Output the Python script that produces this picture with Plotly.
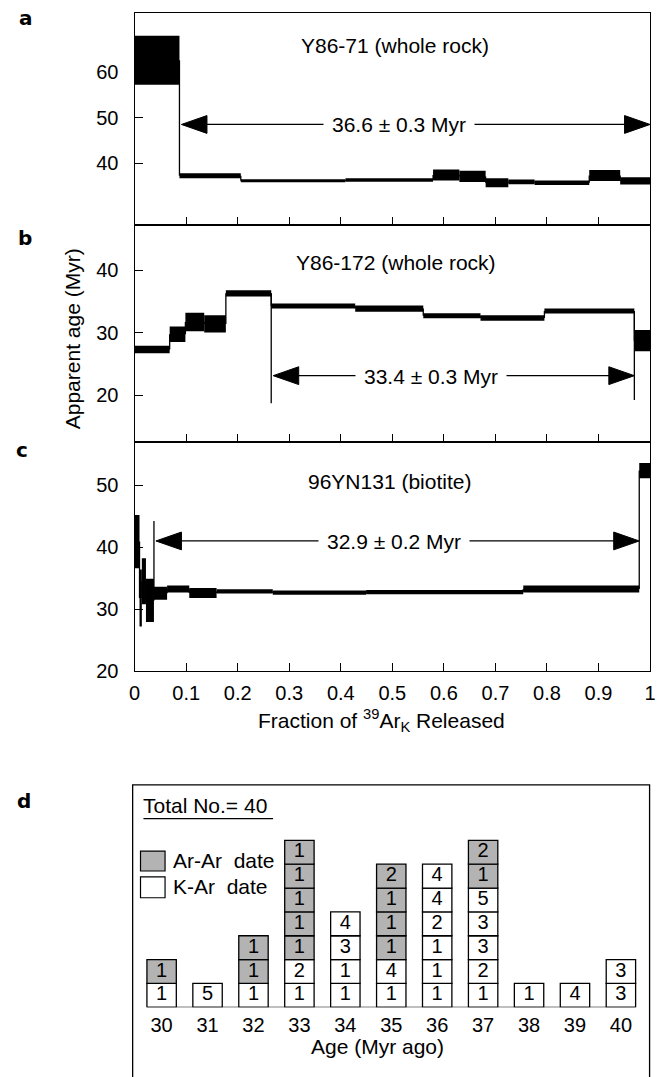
import plotly.graph_objects as go

W, H = 660, 1077
FONT = "Liberation Sans, Arial, Helvetica, sans-serif"

# ---------------- data ----------------
# panel a: Y86-71 (whole rock)
a_start = [0.0, 0.087, 0.206, 0.409, 0.579, 0.630, 0.681, 0.725, 0.776, 0.882, 0.942]
a_end = [0.087, 0.206, 0.409, 0.579, 0.630, 0.681, 0.725, 0.776, 0.882, 0.942, 1.0]
a_age = [62.6, 37.25, 36.15, 36.3, 37.4, 37.1, 35.7, 35.9, 35.7, 37.3, 36.1]
a_err = [5.4, 0.55, 0.35, 0.4, 1.2, 1.25, 1.0, 0.5, 0.5, 1.2, 0.8]
a_plateau = [0.087, 1.0]
a_arrow_age = 48.5
a_label = "36.6 ± 0.3 Myr"
a_title = "Y86-71 (whole rock)"
a_yticks = [40, 50, 60]
a_marker_x, a_marker_top, a_marker_bot = [], [], []

# panel b: Y86-172 (whole rock)
b_start = [0.0, 0.068, 0.0985, 0.135, 0.177, 0.265, 0.428, 0.56, 0.671, 0.795, 0.9695]
b_end = [0.068, 0.0985, 0.135, 0.177, 0.265, 0.428, 0.56, 0.671, 0.795, 0.9695, 1.0]
b_age = [27.3, 29.75, 31.7, 31.4, 36.3, 34.25, 33.85, 32.7, 32.35, 33.46, 28.7]
b_err = [0.6, 1.25, 1.5, 1.4, 0.5, 0.4, 0.5, 0.4, 0.45, 0.4, 1.7]
b_plateau = [0.265, 0.9695]
b_arrow_age = 23.1
b_label = "33.4 ± 0.3 Myr"
b_title = "Y86-172 (whole rock)"
b_yticks = [20, 30, 40]
b_marker_x = [0.265, 0.9695]
b_marker_top = [36.3, 33.46]
b_marker_bot = [18.7, 19.2]

# panel c: 96YN131 (biotite)
c_start = [0.0, 0.0095, 0.014, 0.022, 0.0375, 0.063, 0.106, 0.159, 0.268, 0.449, 0.754, 0.979]
c_end = [0.0095, 0.014, 0.022, 0.0375, 0.063, 0.106, 0.159, 0.268, 0.449, 0.754, 0.979, 1.0]
c_age = [40.9, 31.8, 34.5, 31.4, 32.55, 33.25, 32.6, 32.85, 32.65, 32.75, 33.25, 52.35]
c_err = [4.3, 4.6, 3.7, 3.5, 1.05, 0.55, 0.8, 0.35, 0.35, 0.35, 0.55, 1.25]
c_plateau = [0.0375, 0.979]
c_arrow_age = 41.0
c_label = "32.9 ± 0.2 Myr"
c_title = "96YN131 (biotite)"
c_yticks = [20, 30, 40, 50]
c_marker_x = [0.0375]
c_marker_top = [44.2]
c_marker_bot = [32.55]

frac_ticks = [0, 0.1, 0.2, 0.3, 0.4, 0.5, 0.6, 0.7, 0.8, 0.9, 1.0]
frac_ticktext = ["0", "0.1", "0.2", "0.3", "0.4", "0.5", "0.6", "0.7", "0.8", "0.9", "1"]

# panel d: histogram of dates (cell labels, bottom to top)
d_ages = [30, 31, 32, 33, 34, 35, 36, 37, 38, 39, 40]
d_kar = [[1], [5], [1], [1, 2], [1, 1, 3, 4], [1, 4], [1, 1, 1, 2, 4, 4], [1, 2, 3, 3, 5], [1], [4], [3, 3]]
d_arar = [[1], [], [1, 1], [1, 1, 1, 1, 1], [], [1, 1, 1, 2], [], [1, 2], [], [], []]
d_total_label = "Total No.= 40"

# ---------------- helpers ----------------
def pxx(x):
    return x / W

def pxy(y):
    return 1 - y / H

X_L, X_R = 131, 656
PLOT_W = X_R - X_L

panels = [
    dict(start=a_start, end=a_end, age=a_age, err=a_err, plateau=a_plateau, arrow_age=a_arrow_age,
         label=a_label, title=a_title, yticks=a_yticks, yrange=[26.5, 73.0],
         mx=a_marker_x, mt=a_marker_top, mb=a_marker_bot,
         top=13, bot=227, xa="x", ya="y", title_px=(396, 46), label_px=(400, 125.7)),
    dict(start=b_start, end=b_end, age=b_age, err=b_err, plateau=b_plateau, arrow_age=b_arrow_age,
         label=b_label, title=b_title, yticks=b_yticks, yrange=[12.4, 47.3],
         mx=b_marker_x, mt=b_marker_top, mb=b_marker_bot,
         top=227, bot=447, xa="x2", ya="y2", title_px=(397, 265), label_px=(433, 380.7)),
    dict(start=c_start, end=c_end, age=c_age, err=c_err, plateau=c_plateau, arrow_age=c_arrow_age,
         label=c_label, title=c_title, yticks=c_yticks, yrange=[20.0, 56.9],
         mx=c_marker_x, mt=c_marker_top, mb=c_marker_bot,
         top=447, bot=678, xa="x3", ya="y3", title_px=(391, 486.5), label_px=(395, 546.7)),
]

fig = go.Figure()
shapes = []
annotations = []

for p in panels:
    ppu = (p["bot"] - p["top"]) / (p["yrange"][1] - p["yrange"][0])
    centers = [(s + e) / 2 for s, e in zip(p["start"], p["end"])]
    widths = [e - s for s, e in zip(p["start"], p["end"])]
    bases = [a - e for a, e in zip(p["age"], p["err"])]
    heights = [2 * e for e in p["err"]]
    fig.add_trace(go.Bar(x=centers, y=heights, base=bases, width=widths,
                         marker=dict(color="black", line=dict(width=0)),
                         xaxis=p["xa"], yaxis=p["ya"], hoverinfo="skip", showlegend=False))
    # connectors between consecutive steps and plateau limit markers
    cx, cy = [], []
    for i in range(len(p["age"]) - 1):
        cx += [p["end"][i], p["end"][i], None]
        cy += [p["age"][i], p["age"][i + 1], None]
    for mx, mt, mb in zip(p["mx"], p["mt"], p["mb"]):
        cx += [mx, mx, None]
        cy += [mt, mb, None]
    fig.add_trace(go.Scatter(x=cx, y=cy, mode="lines", line=dict(color="black", width=1.3),
                             xaxis=p["xa"], yaxis=p["ya"], hoverinfo="skip", showlegend=False))
    # plateau arrow
    gap = 2.0 / PLOT_W
    x0 = p["plateau"][0] + gap
    x1 = p["plateau"][1]
    ya = p["arrow_age"]
    L = 26.0 / PLOT_W
    h = 9.0 / ppu
    fig.add_trace(go.Scatter(x=[x0 + L * 0.5, x1 - L * 0.5], y=[ya, ya], mode="lines",
                             line=dict(color="black", width=1.2),
                             xaxis=p["xa"], yaxis=p["ya"], hoverinfo="skip", showlegend=False))
    for tip, d in ((x0, 1), (x1, -1)):
        fig.add_trace(go.Scatter(x=[tip, tip + d * L, tip + d * L, tip], y=[ya, ya + h, ya - h, ya],
                                 mode="lines", fill="toself", fillcolor="black",
                                 line=dict(color="black", width=1),
                                 xaxis=p["xa"], yaxis=p["ya"], hoverinfo="skip", showlegend=False))
    annotations.append(dict(x=pxx(p["label_px"][0]), y=pxy(p["label_px"][1]), xref="paper", yref="paper",
                            text=p["label"], showarrow=False, xanchor="center", yanchor="middle",
                            bgcolor="white", borderpad=8,
                            font=dict(family=FONT, size=21, color="black")))
    annotations.append(dict(x=pxx(p["title_px"][0]), y=pxy(p["title_px"][1]), xref="paper", yref="paper",
                            text=p["title"], showarrow=False, xanchor="center", yanchor="middle",
                            font=dict(family=FONT, size=21, color="black")))

# ---- panel d
D_BASE = 1017.7
D_TOP = 793
BAR_W = 0.64
k_x, k_b, k_t, r_x, r_b, r_t = [], [], [], [], [], []
for age, ks, rs in zip(d_ages, d_kar, d_arar):
    for i, lab in enumerate(ks):
        k_x.append(age); k_b.append(i); k_t.append(str(lab))
    for j, lab in enumerate(rs):
        r_x.append(age); r_b.append(len(ks) + j); r_t.append(str(lab))

fig.add_trace(go.Bar(x=k_x, y=[1] * len(k_x), base=k_b, width=BAR_W,
                     marker=dict(color="white", line=dict(color="black", width=1.3)),
                     xaxis="x4", yaxis="y4", hoverinfo="skip", showlegend=False))
fig.add_trace(go.Bar(x=r_x, y=[1] * len(r_x), base=r_b, width=BAR_W,
                     marker=dict(color="#b3b3b3", line=dict(color="black", width=1.3)),
                     xaxis="x4", yaxis="y4", hoverinfo="skip", showlegend=False))
fig.add_trace(go.Scatter(x=k_x + r_x, y=[b + 0.5 for b in k_b + r_b], text=k_t + r_t, mode="text",
                         textposition="middle center",
                         textfont=dict(family=FONT, size=20, color="black"),
                         xaxis="x4", yaxis="y4", hoverinfo="skip", showlegend=False))

shapes.append(dict(type="line", xref="x4", yref="y4", x0=d_ages[0] - BAR_W / 2, x1=d_ages[-1] + BAR_W / 2,
                   y0=0, y1=0, line=dict(color="black", width=1.3)))
# panel d frame (bottom edge lies below the page)
shapes.append(dict(type="rect", xref="paper", yref="paper", x0=pxx(129), x1=pxx(655.5),
                   y0=-0.05, y1=pxy(D_TOP), line=dict(color="black", width=1.3)))
# legend boxes
shapes.append(dict(type="rect", xref="paper", yref="paper", x0=pxx(137), x1=pxx(162),
                   y0=pxy(880), y1=pxy(860), fillcolor="#b3b3b3", line=dict(color="black", width=1.2)))
shapes.append(dict(type="rect", xref="paper", yref="paper", x0=pxx(137), x1=pxx(162),
                   y0=pxy(907), y1=pxy(886), fillcolor="white", line=dict(color="black", width=1.2)))
# underline of total
shapes.append(dict(type="line", xref="paper", yref="paper", x0=pxx(140), x1=pxx(272),
                   y0=pxy(827), y1=pxy(827), line=dict(color="black", width=1.2)))

def ann(x, y, text, size=21, xanchor="center", angle=0, family=FONT):
    annotations.append(dict(x=pxx(x), y=pxy(y), xref="paper", yref="paper", text=text, showarrow=False,
                            xanchor=xanchor, yanchor="middle", textangle=angle,
                            font=dict(family=family, size=size, color="black")))

ann(168, 869, "Ar-Ar  date", xanchor="left")
ann(168, 896, "K-Ar  date", xanchor="left")
ann(138, 814, d_total_label, xanchor="left")
ann(378, 1057, "Age (Myr ago)")
ann(382, 728, "Fraction of <sup>39</sup>Ar<sub>K</sub> Released")
ann(68, 342, "Apparent age (Myr)", angle=-90)
BOLD = "DejaVu Sans, Arial Black, sans-serif"
ann(20.5, 18.5, "<b>a</b>", size=20, family=BOLD)
ann(19, 240, "<b>b</b>", size=20, family=BOLD)
ann(16.5, 455, "<b>c</b>", size=20, family=BOLD)
ann(18, 809, "<b>d</b>", size=20, family=BOLD)

# ---------------- layout ----------------
tickfont = dict(family=FONT, size=20, color="black")
common = dict(showgrid=False, zeroline=False, showline=True, linecolor="black", linewidth=1.3, mirror=True,
              ticks="inside", ticklen=8, tickwidth=1.2, tickcolor="black", tickfont=tickfont)

layout = dict(width=W, height=H, margin=dict(l=0, r=0, t=0, b=0), paper_bgcolor="white",
              plot_bgcolor="white", barmode="overlay", showlegend=False,
              shapes=shapes, annotations=annotations)

names = [("xaxis", "yaxis", "x", "y"), ("xaxis2", "yaxis2", "x2", "y2"), ("xaxis3", "yaxis3", "x3", "y3")]
for (xn, yn, xr, yr), p in zip(names, panels):
    last = xr == "x3"
    layout[xn] = dict(common, domain=[pxx(X_L), pxx(X_R)], range=[0, 1], anchor=yr,
                      tickvals=frac_ticks, ticktext=frac_ticktext, showticklabels=last,
                      ticklabelstandoff=4, ticklabeloverflow="allow")
    layout[yn] = dict(common, domain=[pxy(p["bot"]), pxy(p["top"])], range=p["yrange"], anchor=xr,
                      tickvals=p["yticks"], ticklabelstandoff=11, ticklabeloverflow="allow")

layout["xaxis4"] = dict(domain=[pxx(129), pxx(656)], range=[29.3694, 40.635], anchor="y4",
                        showgrid=False, zeroline=False, showline=False, ticks="",
                        tickvals=d_ages, ticktext=[str(a) for a in d_ages], tickfont=tickfont,
                        ticklabelstandoff=4, ticklabeloverflow="allow")
layout["yaxis4"] = dict(domain=[pxy(D_BASE), pxy(D_TOP)], range=[0, (D_BASE - D_TOP) / 24.1],
                        anchor="x4", visible=False)

fig.update_layout(**layout)
fig.write_html("out.html", config={"displayModeBar": False},
               post_script="document.body.style.margin='0';document.body.style.overflow='hidden';")
